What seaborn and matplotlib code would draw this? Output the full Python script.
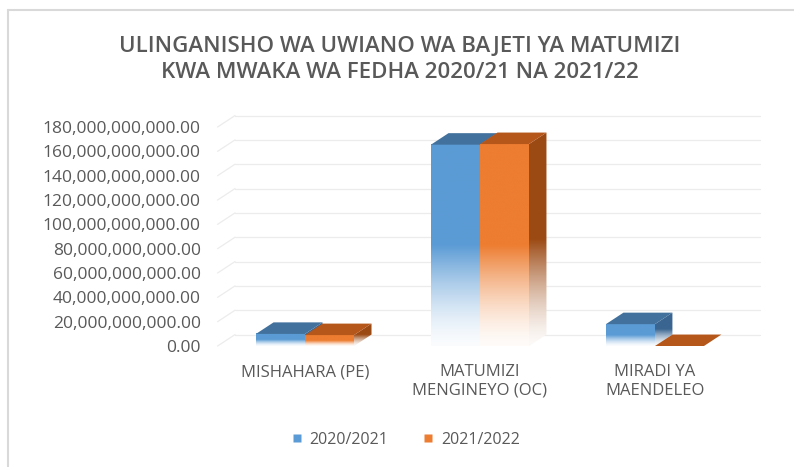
import numpy as np
import pandas as pd
import matplotlib
matplotlib.use("Agg")
import matplotlib.pyplot as plt
import seaborn as sns
from matplotlib.colors import to_rgb
from matplotlib.patches import Polygon
from matplotlib.lines import Line2D

# data
categories = ["MISHAHARA (PE)", "MATUMIZI\nMENGINEYO (OC)", "MIRADI YA\nMAENDELEO"]
years = ["2020/2021", "2021/2022"]
values_2020 = [10.0e9, 165.5e9, 18.0e9]
values_2021 = [9.0e9, 166.0e9, 0.0]
yticks = np.arange(0, 180e9 + 1, 20e9)
title = "ULINGANISHO WA UWIANO WA BAJETI YA MATUMIZI\nKWA MWAKA WA FEDHA 2020/21 NA 2021/22"

front_colors = {"2020/2021": "#5B9BD5", "2021/2022": "#ED7D31"}
top_colors = {"2020/2021": "#41719C", "2021/2022": "#B5561A"}
side_colors = {"2020/2021": "#3A6591", "2021/2022": "#9C4A14"}

df = pd.DataFrame({
    "category": categories * 2,
    "year": [years[0]] * 3 + [years[1]] * 3,
    "value": values_2020 + values_2021,
})

sns.set_theme(style="white")
plt.rcParams["font.family"] = ["Open Sans", "DejaVu Sans"]
text_color = "#595959"

W, H = 7.94, 4.67
fig = plt.figure(figsize=(W, H), dpi=100)
ax_rect = [0.274, 0.259, 0.661, 0.469]
ax = fig.add_axes(ax_rect)

sns.barplot(data=df, x="category", y="value", hue="year", order=categories,
            hue_order=years, palette=front_colors, width=0.56, gap=0,
            saturation=1, errorbar=None, legend=False, ax=ax)

xmin, xmax, ymax = -0.5, 2.5, 180e9
# depth offset of the 3d look, in pixels -> data units
px_x = ax_rect[2] * W * 100 / (xmax - xmin)
px_y = ax_rect[3] * H * 100 / ymax
dx = 17.5 / px_x
dy = 11.5 / px_y


def gradient(color, solid=0.5, low=0.03, n=256):
    rgb = np.array(to_rgb(color))
    t = np.linspace(0, 1, n)
    m = np.clip(t / solid, 0, 1) ** 1.5
    m = low + (1 - low) * m
    img = np.ones(3) * (1 - m[:, None]) + rgb * m[:, None]
    return img[:, None, :]


patches = list(ax.patches)
for i, p in enumerate(patches):
    year = years[i // len(categories)]
    z = 3 + (i // len(categories))
    x0, w, h = p.get_x(), p.get_width(), p.get_height()
    x1 = x0 + w
    p.set_visible(False)
    if h > 0:
        ax.imshow(gradient(front_colors[year]), extent=(x0, x1, 0, h),
                  origin="lower", aspect="auto", interpolation="bilinear",
                  zorder=z)
        side = Polygon([(x1, 0), (x1 + dx, dy), (x1 + dx, h + dy), (x1, h)],
                       closed=True, facecolor="none", edgecolor="none")
        ax.add_patch(side)
        im = ax.imshow(gradient(side_colors[year]), extent=(x1, x1 + dx, 0, h + dy),
                       origin="lower", aspect="auto", interpolation="bilinear",
                       zorder=z + 0.1)
        im.set_clip_path(side)
    top = Polygon([(x0, h), (x1, h), (x1 + dx, h + dy), (x0 + dx, h + dy)],
                  closed=True, facecolor=top_colors[year], edgecolor="none",
                  zorder=z + 0.2)
    ax.add_patch(top)

# back wall gridlines with the little diagonal on the side wall
for v in yticks:
    ax.plot([xmin + dx, xmax + dx], [v + dy, v + dy], color="#ececec", lw=0.9,
            zorder=0, clip_on=False)
    ax.plot([xmin, xmin + dx], [v, v + dy], color="#ececec", lw=0.9,
            zorder=0, clip_on=False)

ax.set_xlim(xmin, xmax)
ax.set_ylim(0, ymax)
ax.set_yticks(yticks)
ax.set_yticklabels([f"{v:,.2f}" for v in yticks])
ax.set_xlabel("")
ax.set_ylabel("")
ax.tick_params(axis="y", length=0, pad=12, labelsize=12.5, labelcolor=text_color)
ax.tick_params(axis="x", length=0, pad=13, labelsize=12, labelcolor=text_color)
ax.grid(False)
sns.despine(ax=ax, left=True, bottom=True)

fig.text(0.504, 0.873, title, ha="center", va="center", fontsize=16,
         fontweight="semibold", color=text_color, linespacing=1.3)

handles = [Line2D([0], [0], marker="s", linestyle="none", markersize=6,
                  markerfacecolor=front_colors[y], markeredgecolor="none")
           for y in years]
fig.legend(handles, years, loc="center", bbox_to_anchor=(0.509, 0.058), ncol=2,
           frameon=False, fontsize=11.5, labelcolor=text_color, handletextpad=0.3,
           columnspacing=2.0, handlelength=1.0)

# chart frame (top and left edge visible in the screenshot)
fig.add_artist(Line2D([8 / 794, 8 / 794], [0, 1 - 10 / 467], color="#d9d9d9",
                      lw=1.5, transform=fig.transFigure))
fig.add_artist(Line2D([8 / 794, 1], [1 - 10 / 467, 1 - 10 / 467], color="#d9d9d9",
                      lw=1.5, transform=fig.transFigure))

fig.savefig("out.png", dpi=100)
